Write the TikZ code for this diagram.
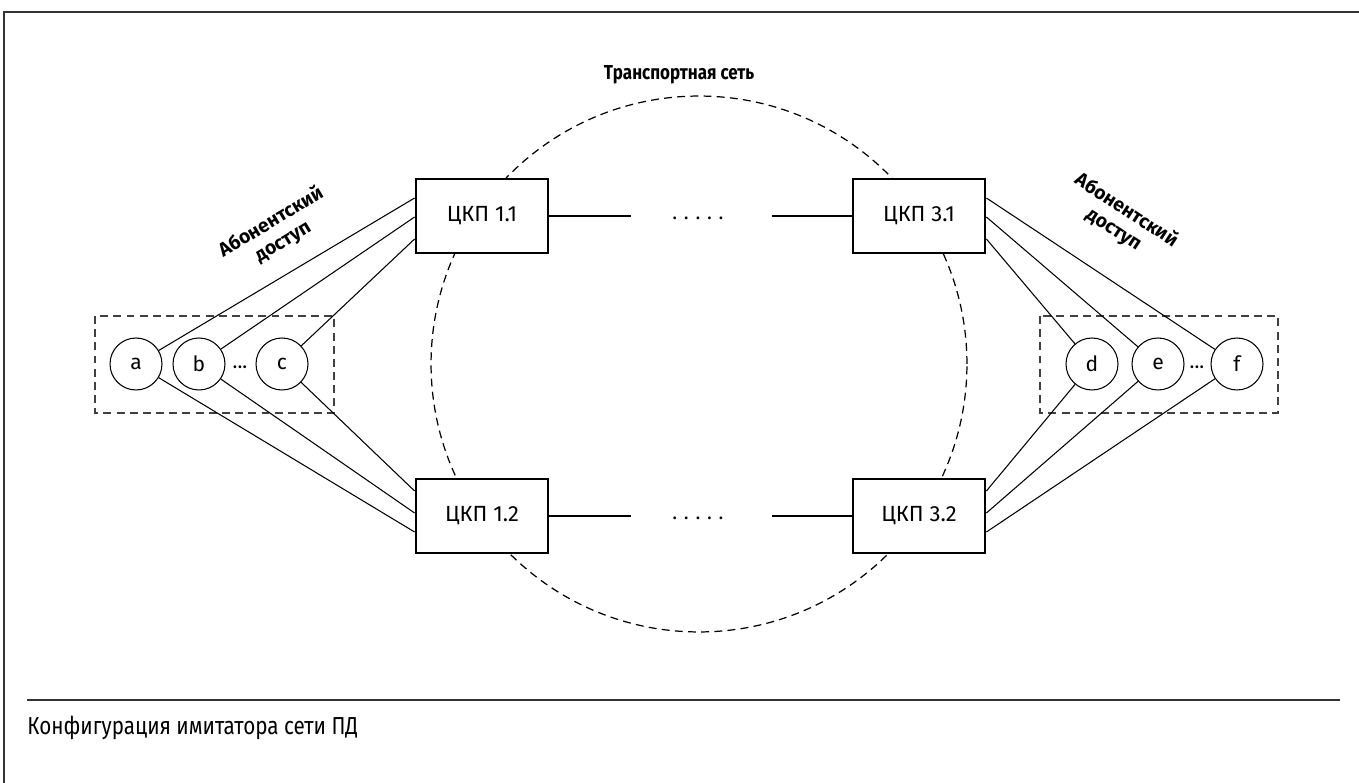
\documentclass[tikz,border=0pt]{standalone}
\usepackage{fontspec}
\setmainfont{Fira Sans}
\newfontfamily\narrowfont[FakeStretch=0.84]{Fira Sans}
\usetikzlibrary{calc}

\begin{document}
\begin{tikzpicture}[x=0.02cm,y=-0.02cm,
    ckp/.style={draw, line width=1.6pt, fill=white, minimum width=2.64cm,
      minimum height=1.48cm, inner sep=0pt, font=\fontsize{12.5}{14}\selectfont},
    abon/.style={draw, circle, line width=0.6pt, fill=white, minimum size=1.04cm,
      inner sep=0pt, font=\fontsize{12}{14}\selectfont},
    link/.style={line width=0.6pt},
    grp/.style={draw=black!75, dash pattern=on 4.5pt off 3pt, line width=0.7pt},
    lbl/.style={font=\bfseries\fontsize{11}{13}\selectfont, align=center,
      inner sep=0pt},
    dotsnode/.style={font=\fontsize{11.5}{13}\selectfont, inner sep=0pt}
  ]
  \useasboundingbox (0,0) rectangle (1359,783);

  % frame and caption
  \draw[line width=1pt, black!80] (4,783) -- (4,12) -- (1359,12);
  \draw[line width=0.9pt, black!80] (27,700) -- (1340,700);
  \node[anchor=base west, inner sep=0pt, font=\narrowfont\fontsize{14}{16}\selectfont]
    (caption) at (27,734) {Конфигурация имитатора сети ПД};

  % transport network
  \draw[grp, black] (699,364) circle[radius=5.36cm];
  \node[font=\narrowfont\bfseries\fontsize{11.5}{13}\selectfont] (title) at (679,75)
    {Транспортная сеть};

  \node[ckp] (ckp11) at (482,216) {ЦКП 1.1};
  \node[ckp] (ckp12) at (482,516) {ЦКП 1.2};
  \node[ckp] (ckp31) at (919,216) {ЦКП 3.1};
  \node[ckp] (ckp32) at (919,516) {ЦКП 3.2};

  \coordinate (g11) at (631,216);
  \coordinate (g31) at (772,216);
  \coordinate (g12) at (631,516);
  \coordinate (g32) at (772,516);
  \draw[link] (ckp11.east) -- (g11);
  \draw[link] (g31) -- (ckp31.west);
  \draw[link] (ckp12.east) -- (g12);
  \draw[link] (g32) -- (ckp32.west);
  \node[dotsnode] (dots1) at (698,218) {.\,\,.\,\,.\,\,.\,\,.};
  \node[dotsnode] (dots2) at (698,518) {.\,\,.\,\,.\,\,.\,\,.};

  % subscribers, left
  \draw[grp] (95,316) rectangle (334,413);
  \node[abon] (a) at (136,364) {a};
  \node[abon] (b) at (199,364) {b};
  \node[abon] (c) at (282,364) {c};
  \node[dotsnode] (dotsL) at (240,370) {···};

  \draw[link] (a) -- ($(ckp11.west)+(0,-18)$);
  \draw[link] (b) -- ($(ckp11.west)+(0,1)$);
  \draw[link] (c) -- ($(ckp11.west)+(0,23)$);
  \draw[link] (c) -- ($(ckp12.west)+(0,-25)$);
  \draw[link] (b) -- ($(ckp12.west)+(0,-3)$);
  \draw[link] (a) -- ($(ckp12.west)+(0,16)$);

  % subscribers, right
  \draw[grp] (1040,316) rectangle (1278,413);
  \node[abon] (d) at (1092,364) {d};
  \node[abon] (e) at (1158,364) {e};
  \node[abon] (f) at (1237,364) {f};
  \node[dotsnode] (dotsR) at (1197,370) {···};

  \draw[link] (f) -- ($(ckp31.east)+(0,-18)$);
  \draw[link] (e) -- ($(ckp31.east)+(0,1)$);
  \draw[link] (d) -- ($(ckp31.east)+(0,23)$);
  \draw[link] (d) -- ($(ckp32.east)+(0,-25)$);
  \draw[link] (e) -- ($(ckp32.east)+(0,-3)$);
  \draw[link] (f) -- ($(ckp32.east)+(0,16)$);

  \node[lbl, rotate=31] (accL) at (277,232) {Абонентский\\доступ};
  \node[lbl, rotate=-33] (accR) at (1120,220) {Абонентский\\доступ};
\end{tikzpicture}
\end{document}
